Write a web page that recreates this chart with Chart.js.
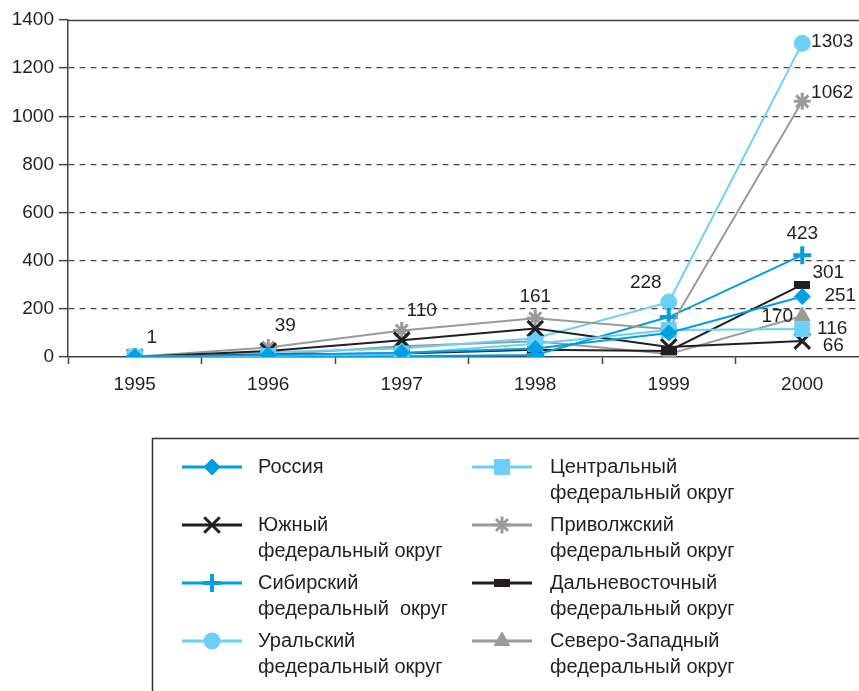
<!DOCTYPE html>
<html>
<head>
<meta charset="utf-8">
<script src="https://cdn.jsdelivr.net/npm/chart.js@4/dist/chart.umd.min.js"></script>
<style>
    html, body { margin: 0; padding: 0; background: #fff; overflow: hidden; }
    #wrap { position: relative; width: 883px; height: 691px; }
</style>
</head>
<body>
<div id="wrap"><canvas id="chart"></canvas></div>
<script>
// data
const years = ['1995', '1996', '1997', '1998', '1999', '2000'];
const russia = [1, 8, 18, 35, 100, 251];
const central = [1, 5, 15, 55, 112, 116];
const southern = [0, 25, 70, 118, 42, 66];
const volga = [1, 39, 110, 161, 115, 1062];
const siberian = [0, 2, 3, 8, 166, 423];
const farEast = [0, 10, 15, 30, 25, 301];
const urals = [2, 20, 35, 78, 228, 1303];
const northWest = [0, 8, 45, 65, 12, 170];
const yTicks = [0, 200, 400, 600, 800, 1000, 1200, 1400];

// legend names, split as in the picture
const names = [
    ['Россия'],
    ['Центральный', 'федеральный округ'],
    ['Южный', 'федеральный округ'],
    ['Приволжский', 'федеральный округ'],
    ['Сибирский', 'федеральный  округ'],
    ['Дальневосточный', 'федеральный округ'],
    ['Уральский', 'федеральный округ'],
    ['Северо-Западный', 'федеральный округ']
];

// which points carry a value label: [dataset, point, dx, dy]
const valueLabels = [
    [3, 0, 17, -19], [3, 1, 17, -22], [3, 2, 20, -20], [3, 3, 0, -21],
    [6, 4, -23, -19], [6, 5, 30, -2], [3, 5, 30, -9], [4, 5, 0, -21],
    [5, 5, 26, -12], [0, 5, 38, -1], [7, 5, -25, 1], [1, 5, 30, 0],
    [2, 5, 31, 5]
];

const blue = '#009fe3';
const lightBlue = '#6ccff6';
const black = '#231f20';
const grey = '#9a9a9a';
const textColor = '#231f20';
const fontFamily = '"Liberation Sans", Arial, sans-serif';

// flat black bar used as the Far East marker
const barMarker = document.createElement('canvas');
barMarker.width = 16;
barMarker.height = 8;
const bctx = barMarker.getContext('2d');
bctx.fillStyle = black;
bctx.fillRect(0, 0, 16, 8);

function series(label, data, color, style, radius, width) {
    return {
        label: label,
        data: data,
        borderColor: color,
        backgroundColor: color,
        borderWidth: 2,
        pointStyle: style,
        pointRadius: radius,
        pointHoverRadius: radius,
        pointBackgroundColor: color,
        pointBorderColor: color,
        pointBorderWidth: width,
        tension: 0
    };
}

const datasets = [
    series('Россия', russia, blue, 'rectRot', 8, 1),
    series('Центральный федеральный округ', central, lightBlue, 'rect', 10.5, 1),
    series('Южный федеральный округ', southern, black, 'crossRot', 11, 3),
    series('Приволжский федеральный округ', volga, grey, 'star', 8.5, 3),
    series('Сибирский федеральный округ', siberian, blue, 'cross', 9, 4),
    series('Дальневосточный федеральный округ', farEast, black, barMarker, 8, 1),
    series('Уральский федеральный округ', urals, lightBlue, 'circle', 8, 1),
    series('Северо-Западный федеральный округ', northWest, grey, 'triangle', 9, 1)
];

const topLine = {
    id: 'topLine',
    beforeDatasetsDraw(chart) {
        const { ctx, chartArea } = chart;
        const y = Math.round(chart.scales.y.getPixelForValue(yTicks[yTicks.length - 1])) + 0.5;
        ctx.save();
        ctx.strokeStyle = '#444';
        ctx.lineWidth = 1.5;
        ctx.beginPath();
        ctx.moveTo(chartArea.left, y);
        ctx.lineTo(chartArea.right, y);
        ctx.stroke();
        ctx.restore();
    }
};

const pointValues = {
    id: 'pointValues',
    afterDatasetsDraw(chart) {
        const ctx = chart.ctx;
        ctx.save();
        ctx.font = '19px ' + fontFamily;
        ctx.fillStyle = textColor;
        ctx.textAlign = 'center';
        ctx.textBaseline = 'middle';
        valueLabels.forEach(([d, i, dx, dy]) => {
            const el = chart.getDatasetMeta(d).data[i];
            ctx.fillText(String(chart.data.datasets[d].data[i]), el.x + dx, el.y + dy);
        });
        ctx.restore();
    }
};

const boxLegend = {
    id: 'boxLegend',
    afterDraw(chart) {
        const ctx = chart.ctx;
        ctx.save();
        ctx.strokeStyle = '#333';
        ctx.lineWidth = 1.5;
        ctx.strokeRect(152.5, 438.5, 720, 300);

        ctx.font = '20px ' + fontFamily;
        ctx.textBaseline = 'middle';
        ctx.textAlign = 'left';
        chart.data.datasets.forEach((ds, i) => {
            const col = i % 2;
            const row = Math.floor(i / 2);
            const x0 = col === 0 ? 182 : 472;
            const y = 467 + row * 58;
            ctx.strokeStyle = ds.borderColor;
            ctx.lineWidth = 3;
            ctx.beginPath();
            ctx.moveTo(x0, y);
            ctx.lineTo(x0 + 60, y);
            ctx.stroke();

            ctx.fillStyle = ds.pointBackgroundColor;
            ctx.strokeStyle = ds.pointBorderColor;
            ctx.lineWidth = ds.pointBorderWidth;
            Chart.helpers.drawPoint(ctx, {
                pointStyle: ds.pointStyle,
                rotation: 0,
                radius: ds.pointRadius,
                borderWidth: ds.pointBorderWidth
            }, x0 + 30, y);

            ctx.fillStyle = textColor;
            names[i].forEach((line, k) => {
                ctx.fillText(line, col === 0 ? 258 : 550, y + k * 26);
            });
        });
        ctx.restore();
    }
};

new Chart(document.getElementById('chart'), {
    type: 'line',
    data: { labels: years, datasets: datasets },
    plugins: [topLine, pointValues, boxLegend],
    options: {
        responsive: true,
        maintainAspectRatio: false,
        animation: false,
        layout: { padding: { top: 20, right: 2, bottom: 289, left: 0 } },
        plugins: {
            legend: { display: false },
            tooltip: { enabled: false }
        },
        scales: {
            x: {
                offset: true,
                afterFit: (scale) => { scale.height = 45; },
                grid: {
                    offset: true,
                    drawOnChartArea: false,
                    drawTicks: true,
                    tickLength: 7,
                    tickColor: '#444',
                    tickWidth: 1.5
                },
                border: { color: '#444', width: 1.5 },
                ticks: {
                    color: textColor,
                    padding: 9,
                    maxRotation: 0,
                    font: { family: fontFamily, size: 19 }
                }
            },
            y: {
                min: 0,
                max: 1400,
                afterFit: (scale) => { scale.width = 68; },
                afterBuildTicks: (scale) => { scale.ticks = yTicks.map(v => ({ value: v })); },
                grid: {
                    color: (c) => (c.tick && (c.tick.value === 0 || c.tick.value === 1400)) ? 'rgba(0,0,0,0)' : '#444',
                    lineWidth: 1.3,
                    tickLength: 9,
                    tickColor: '#444',
                    tickWidth: 1.5
                },
                border: { color: '#444', width: 1.5, dash: [6, 5] },
                ticks: {
                    color: textColor,
                    padding: 5,
                    callback: (v) => String(v),
                    font: { family: fontFamily, size: 19 }
                }
            }
        }
    }
});
</script>
</body>
</html>
